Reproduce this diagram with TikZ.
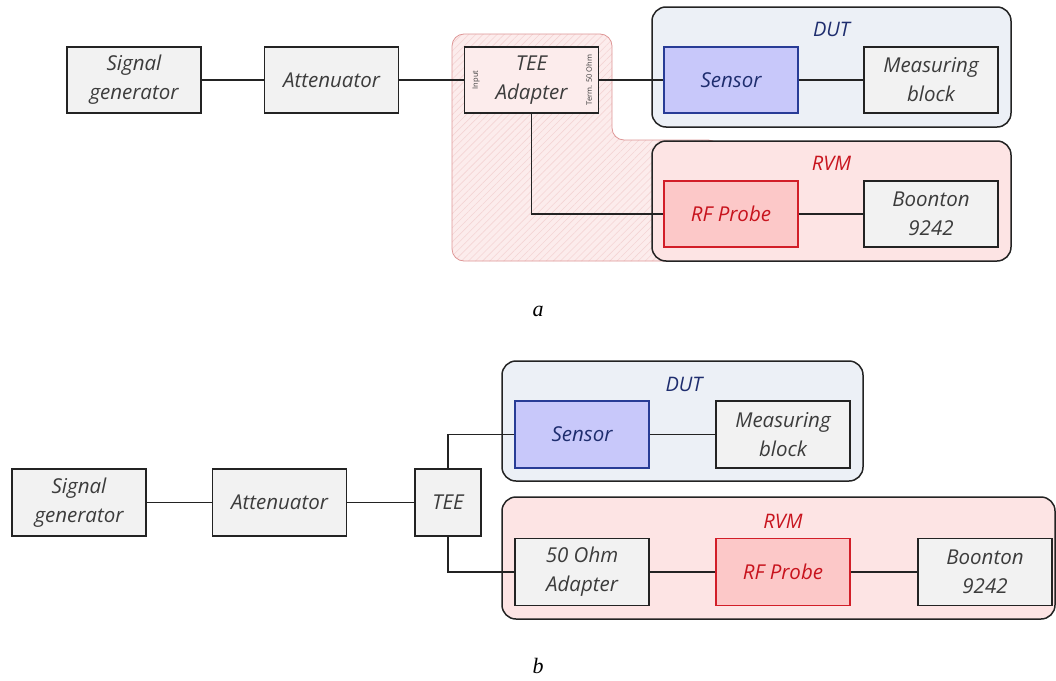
\documentclass[tikz,border=0pt]{standalone}
\usepackage{fontspec}
\setmainfont{Open Sans}
\newfontfamily\capfont{Liberation Serif}
\usetikzlibrary{positioning,patterns.meta}

% --- colours ---
\definecolor{boxgray}{RGB}{242,242,242}
\definecolor{edgegray}{RGB}{35,35,35}
\definecolor{txtgray}{RGB}{60,60,60}
\definecolor{dutfill}{RGB}{236,240,246}
\definecolor{dutblue}{RGB}{30,45,110}
\definecolor{rvmfill}{RGB}{253,228,228}
\definecolor{rvmred}{RGB}{200,20,30}
\definecolor{sensfill}{RGB}{200,200,250}
\definecolor{sensedge}{RGB}{40,60,150}
\definecolor{probefill}{RGB}{252,200,200}
\definecolor{probeedge}{RGB}{210,30,40}
\definecolor{hatchfill}{RGB}{252,236,236}
\definecolor{hatchline}{RGB}{244,212,212}
\definecolor{hatchedge}{RGB}{222,150,150}

\tikzset{
  block/.style={draw=edgegray, line width=1.3pt, fill=boxgray,
    minimum width=134, minimum height=66, inner sep=0pt, align=center,
    text=txtgray, font=\itshape\fontsize{20.5}{29}\selectfont},
  sensorblock/.style={block, draw=sensedge, fill=sensfill, text=dutblue},
  probeblock/.style={block, draw=probeedge, fill=probefill, text=rvmred},
  group/.style={draw=edgegray, line width=1.5pt, rounded corners=14pt,
    inner sep=0pt},
  grouplabel/.style={font=\itshape\fontsize{20}{24}\selectfont},
  portlabel/.style={rotate=90, text=txtgray, inner sep=0pt,
    font=\fontsize{7.5}{9}\selectfont},
  wire/.style={draw=edgegray, line width=1.3pt},
  caption/.style={font=\capfont\itshape\fontsize{22}{26}\selectfont}
}

\begin{document}
\begin{tikzpicture}[x=1pt, y=-1pt]
  \useasboundingbox (0,0) rectangle (1056,680);

  % --- (a): hatched area round the TEE adapter ---
  \draw[draw=hatchedge, line width=0.8pt, rounded corners=12pt,
        preaction={fill=hatchfill},
        pattern={Lines[angle=45, distance=5pt, line width=0.6pt]},
        pattern color=hatchline]
    (452,34) -- (612,34) -- (612,140) -- (720,140) -- (720,261)
    -- (452,261) -- cycle;

  % --- (a): groups ---
  \node[group, fill=dutfill, minimum width=359, minimum height=120]
    (dutA) at (831.5,67) {};
  \node[group, fill=rvmfill, minimum width=359, minimum height=120]
    (rvmA) at (831.5,201) {};
  \node[grouplabel, text=dutblue] (dutAlbl) at (831.5,29) {DUT};
  \node[grouplabel, text=rvmred] (rvmAlbl) at (831.5,163) {RVM};

  % --- (a): blocks ---
  \node[block] (sigA) at (134,80) {Signal\\generator};
  \node[block] (attA) at (331.5,80) {Attenuator};
  \node[block, fill=hatchfill] (teeA) at (531.5,80) {TEE\\Adapter};
  \node[portlabel] (inA) at (476,80) {Input};
  \node[portlabel] (termA) at (589,80) {Term. 50 Ohm};
  \node[sensorblock] (sensA) at (731,80) {Sensor};
  \node[block] (measA) at (931,80) {Measuring\\block};
  \node[probeblock] (rfA) at (731,214) {RF Probe};
  \node[block] (boonA) at (931,214) {Boonton\\9242};

  % --- (a): wires ---
  \draw[wire] (sigA) -- (attA);
  \draw[wire] (attA) -- (teeA);
  \draw[wire] (teeA) -- (sensA);
  \draw[wire] (sensA) -- (measA);
  \draw[wire] (teeA.south) |- (rfA.west);
  \draw[wire] (rfA) -- (boonA);

  \node[caption] (capA) at (538,311) {a};

  % --- (b): groups ---
  \node[group, fill=dutfill, minimum width=361, minimum height=120]
    (dutB) at (682.5,421) {};
  \node[group, fill=rvmfill, minimum width=553, minimum height=122]
    (rvmB) at (778.5,558) {};
  \node[grouplabel, text=dutblue] (dutBlbl) at (684,384) {DUT};
  \node[grouplabel, text=rvmred] (rvmBlbl) at (783,521) {RVM};

  % --- (b): blocks ---
  \node[block, minimum height=67] (sigB) at (79,502.5) {Signal\\generator};
  \node[block, minimum height=67] (attB) at (279.5,502.5) {Attenuator};
  \node[block, minimum width=66, minimum height=67] (teeB) at (448,502.5) {TEE};
  \node[sensorblock, minimum height=67] (sensB) at (582,434.5) {Sensor};
  \node[block, minimum height=67] (measB) at (783,434.5) {Measuring\\block};
  \node[block, minimum height=67] (ohmB) at (582,572) {50 Ohm\\Adapter};
  \node[probeblock, minimum height=67] (rfB) at (783,572) {RF Probe};
  \node[block, minimum height=67] (boonB) at (985,572) {Boonton\\9242};

  % --- (b): wires ---
  \draw[wire] (sigB) -- (attB);
  \draw[wire] (attB) -- (teeB);
  \draw[wire] (teeB.north) |- (sensB.west);
  \draw[wire] (sensB) -- (measB);
  \draw[wire] (teeB.south) |- (ohmB.west);
  \draw[wire] (ohmB) -- (rfB);
  \draw[wire] (rfB) -- (boonB);

  \node[caption] (capB) at (538,666) {b};
\end{tikzpicture}
\end{document}
